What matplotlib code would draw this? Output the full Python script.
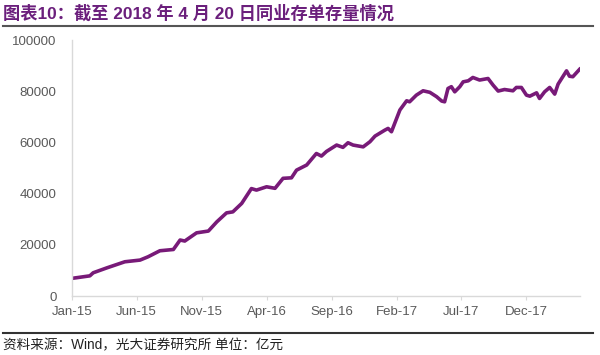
import matplotlib
matplotlib.use("Agg")
import matplotlib.pyplot as plt
import matplotlib.dates as mdates
import pandas as pd

# weekly outstanding NCDs, sampled off the chart (unit: 100 million yuan)
dates = [
    "2015-01-02", "2015-02-14", "2015-02-22", "2015-03-26", "2015-05-08",
    "2015-06-13", "2015-07-02", "2015-07-30", "2015-08-31", "2015-09-16",
    "2015-09-27", "2015-10-25", "2015-11-22", "2015-12-12", "2016-01-04",
    "2016-01-19", "2016-02-09", "2016-03-03", "2016-03-15", "2016-04-08",
    "2016-04-28", "2016-05-17", "2016-06-06", "2016-06-18", "2016-07-12",
    "2016-08-04", "2016-08-16", "2016-08-28", "2016-09-21", "2016-10-06",
    "2016-10-18", "2016-10-30", "2016-11-23", "2016-12-09", "2016-12-21",
    "2017-01-13", "2017-01-21", "2017-01-29", "2017-02-18", "2017-03-06",
    "2017-03-13", "2017-03-29", "2017-04-14", "2017-04-30", "2017-05-16",
    "2017-05-28", "2017-06-04", "2017-06-12", "2017-06-20", "2017-06-28",
    "2017-07-10", "2017-07-18", "2017-07-30", "2017-08-10", "2017-08-26",
    "2017-09-15", "2017-09-27", "2017-10-09", "2017-10-24", "2017-11-13",
    "2017-11-21", "2017-12-03", "2017-12-15", "2017-12-23", "2018-01-08",
    "2018-01-15", "2018-01-27", "2018-02-08", "2018-02-20", "2018-02-28",
    "2018-03-20", "2018-03-27", "2018-04-04", "2018-04-20",
]
stock = [
    6900, 7900, 9100, 11000, 13400,
    14060, 15350, 17700, 18200, 21900,
    21500, 24700, 25400, 29000, 32500,
    32900, 36200, 42000, 41400, 42700,
    42100, 46000, 46200, 49200, 51200,
    55700, 54700, 56500, 59000, 58100,
    59900, 59000, 58300, 60300, 62500,
    64800, 65500, 64200, 72700, 76300,
    75900, 78500, 80200, 79600, 77900,
    76200, 75900, 81100, 81800, 79800,
    81800, 83700, 84100, 85400, 84400,
    85000, 82400, 80100, 80700, 80200,
    81500, 81500, 78500, 78100, 79400,
    77200, 79800, 81500, 78900, 82800,
    88000, 85900, 85700, 88600,
]
yticks = [0, 20000, 40000, 60000, 80000, 100000]

title = "图表10：截至 2018 年 4 月 20 日同业存单存量情况"
source = "资料来源：Wind，光大证券研究所 单位：亿元"

plt.rcParams["font.family"] = ["Liberation Sans", "Noto Sans CJK SC", "DejaVu Sans"]

x = pd.to_datetime(dates)
start = pd.Timestamp("2015-01-02")
end = pd.Timestamp("2018-04-20")
# category axis in the original: a label every 22 weeks
xticks = pd.date_range(start, end, freq="154D")

fig = plt.figure(figsize=(6, 3.55), dpi=100)
ax = fig.add_axes([0.1195, 0.166, 0.8465, 0.721])

ax.plot(x, stock, color="#781a78", linewidth=2.6, solid_joinstyle="round")

ax.set_xlim(start, end)
ax.set_ylim(0, 100000)
ax.set_yticks(yticks)
ax.set_yticklabels([str(v) for v in yticks])
ax.set_xticks(xticks)
ax.xaxis.set_major_formatter(mdates.DateFormatter("%b-%y"))

for s in ["top", "right"]:
    ax.spines[s].set_visible(False)
for s in ["left", "bottom"]:
    ax.spines[s].set_color("#d9d9d9")
    ax.spines[s].set_linewidth(1.0)
ax.tick_params(axis="y", length=0, pad=11, labelsize=9.5, labelcolor="#595959")
ax.tick_params(axis="x", length=3, color="#d9d9d9", pad=4, labelsize=9.5,
               labelcolor="#595959")

# header and footer
fig.text(0.005, 0.962, title, fontsize=12.4, fontweight="bold", color="#6b1f7c",
         va="center", ha="left")
fig.add_artist(plt.Line2D([0.005, 0.988], [0.928, 0.928], color="#555555",
                          linewidth=1.5))
fig.add_artist(plt.Line2D([0.005, 0.988], [0.062, 0.062], color="#333333",
                          linewidth=1.5))
fig.text(0.005, 0.027, source, fontsize=9.8, color="#222222", va="center", ha="left")

fig.savefig("out.png", dpi=100)
